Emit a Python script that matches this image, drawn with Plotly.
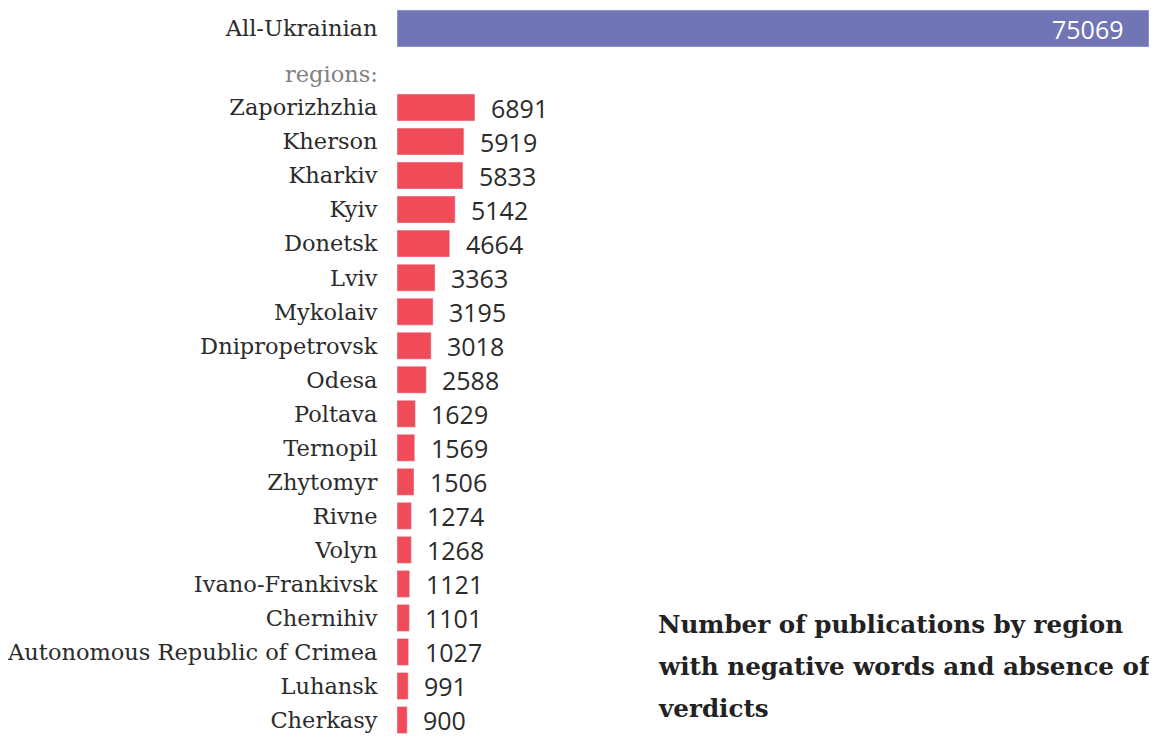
import plotly.graph_objects as go

# --- data ---
total_label = "All-Ukrainian"
total_value = 75069

regions = ["Zaporizhzhia", "Kherson", "Kharkiv", "Kyiv", "Donetsk", "Lviv", "Mykolaiv",
           "Dnipropetrovsk", "Odesa", "Poltava", "Ternopil", "Zhytomyr", "Rivne", "Volyn",
           "Ivano-Frankivsk", "Chernihiv", "Autonomous Republic of Crimea", "Luhansk", "Cherkasy"]
counts = [6891, 5919, 5833, 5142, 4664, 3363, 3195, 3018, 2588, 1629, 1569, 1506, 1274, 1268,
          1121, 1101, 1027, 991, 900]

title_lines = ["Number of publications by region",
               "with negative words and absence of",
               "verdicts"]

PURPLE = "#7175b6"
RED = "#f04b58"
TEXT = "#2b2b2b"
SERIF = "DejaVu Serif"
SANS = "Open Sans"

# page body has an 8px margin, so the figure is drawn 8px in from the window corner
OFF = 8
W, H = 1157 - OFF, 736 - OFF
LEFT, RIGHT = 397 - OFF, 1149 - OFF  # plot area in figure pixels


def py(y_ref):
    # window pixel (from top) -> paper fraction
    return (H - (y_ref - OFF)) / H


def px(x_ref):
    return ((x_ref - OFF) - LEFT) / (RIGHT - LEFT)


# top panel spans window y 8..51.5, bar drawn from 10 to 47
top_h = 51.5 - OFF
top_range = [-(51.5 - 28.5) / top_h, (28.5 - OFF) / top_h]

# bottom panel spans window y 90..736; first row centred at 107.5, pitch ~34
pitch = (720 - 107.5) / (len(regions) - 1)
bot_range = [(736 - 107.5) / pitch, (90 - 107.5) / pitch]

fig = go.Figure()

fig.add_trace(go.Bar(x=[total_value], y=[total_label], orientation="h", width=37 / top_h,
                     marker_color=PURPLE, xaxis="x", yaxis="y", hoverinfo="skip"))
fig.add_trace(go.Bar(x=counts, y=regions, orientation="h", width=27 / pitch,
                     marker_color=RED, xaxis="x2", yaxis="y2", hoverinfo="skip"))

annotations = []
# value labels for regions
for r, c in zip(regions, counts):
    annotations.append(dict(x=c, y=r, xref="x2", yref="y2", text=str(c), showarrow=False,
                            xanchor="left", xshift=14, font=dict(family=SANS, size=25, color=TEXT)))
# total value inside bar
annotations.append(dict(x=total_value, y=total_label, xref="x", yref="y", text=str(total_value),
                        showarrow=False, xanchor="right", xshift=-24,
                        font=dict(family=SANS, size=25, color="white")))
# "regions:" label
annotations.append(dict(x=0, y=py(74), xref="paper", yref="paper", text="regions:",
                        showarrow=False, xanchor="right", yanchor="middle", xshift=-17,
                        font=dict(family=SERIF, size=22.5, color="#808080")))
# title
for i, line in enumerate(title_lines):
    annotations.append(dict(x=px(656), y=py(624 + i * 42), xref="paper", yref="paper",
                            text=f"<b>{line}</b>", showarrow=False, xanchor="left", yanchor="middle",
                            font=dict(family=SERIF, size=24.6, color="#222222")))

tick_font = dict(family=SERIF, size=22.5, color=TEXT)

fig.update_layout(
    width=W, height=H,
    margin=dict(l=LEFT, r=W - RIGHT, t=0, b=0),
    paper_bgcolor="white", plot_bgcolor="white",
    showlegend=False,
    xaxis=dict(domain=[0, 1], range=[0, total_value], visible=False, fixedrange=True),
    yaxis=dict(domain=[py(51.5), 1], anchor="x", range=top_range, showgrid=False, zeroline=False,
               ticks="outside", ticklen=14, tickcolor="rgba(0,0,0,0)", tickfont=tick_font,
               showline=False),
    xaxis2=dict(domain=[0, 1], range=[0, 66500], visible=False, anchor="y2", fixedrange=True),
    yaxis2=dict(domain=[0, py(90)], anchor="x2", range=bot_range, showgrid=False,
                zeroline=False, ticks="outside", ticklen=14, tickcolor="rgba(0,0,0,0)",
                tickfont=tick_font, showline=False),
    annotations=annotations,
)

fig.write_html("out.html")
